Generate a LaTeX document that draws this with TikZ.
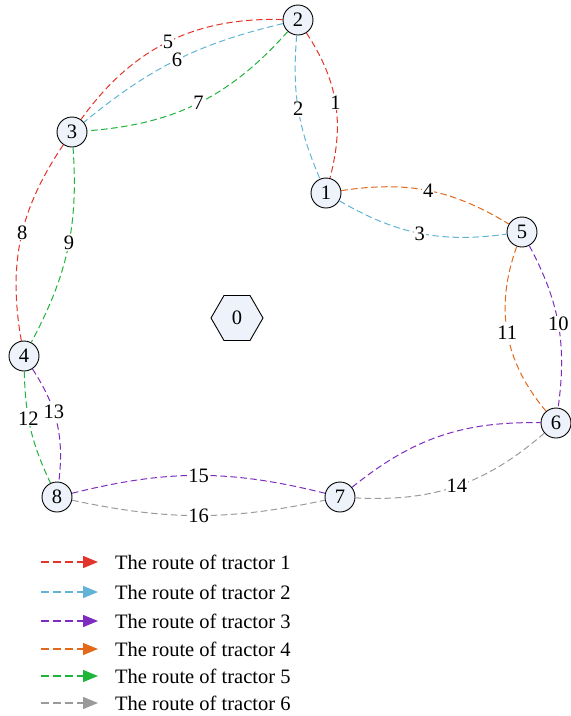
\documentclass[tikz,border=0pt]{standalone}
\usepackage{fontspec}
\setmainfont{Liberation Serif}
\usepackage{xcolor}
\usepackage{tikz}
\usetikzlibrary{arrows.meta,shapes.geometric}
\definecolor{tred}{HTML}{E3342B}
\definecolor{tblue}{HTML}{62B4D6}
\definecolor{tpurple}{HTML}{7E2CBF}
\definecolor{torange}{HTML}{E2691B}
\definecolor{tgreen}{HTML}{1FB43A}
\definecolor{tgray}{HTML}{9A9A9A}
\definecolor{nodefill}{HTML}{EEF2FA}

\begin{document}
\begin{tikzpicture}[x=1pt,y=-1pt,font=\fontsize{20.5}{24}\selectfont]
  \tikzset{farm/.style={circle,draw=black,fill=nodefill,line width=0.9pt,minimum size=30pt,inner sep=0pt},
    depot/.style={regular polygon,regular polygon sides=6,draw=black,fill=nodefill,line width=0.9pt,minimum size=52pt,inner sep=0pt},
    route/.style={line width=1pt,dash pattern=on 6.5pt off 3.5pt},
    keyline/.style={line width=1.3pt,dash pattern=on 7.5pt off 4.5pt,-{Triangle[length=15pt,width=12pt]},shorten >=17pt},
    lbl/.style={fill=white,inner sep=1pt,text=black}}
  \useasboundingbox (0,0) rectangle (571,716);

  % fields and depot
  \node[depot] (n0) at (237,318) {0};
  \node[farm] (n1) at (326,193) {1};
  \node[farm] (n2) at (298,20) {2};
  \node[farm] (n3) at (72,132) {3};
  \node[farm] (n4) at (24,356) {4};
  \node[farm] (n5) at (522,232) {5};
  \node[farm] (n6) at (556,423) {6};
  \node[farm] (n7) at (340,497) {7};
  \node[farm] (n8) at (57,497) {8};

  % routes
  \draw[route,tred] (n2) to[bend left=24] node[lbl]{1} (n1);
  \draw[route,tblue] (n2) to[bend right=14] node[lbl]{2} (n1);
  \draw[route,tblue] (n1) to[bend right=19] node[lbl]{3} (n5);
  \draw[route,torange] (n1) to[bend left=20] node[lbl]{4} (n5);
  \draw[route,tred] (n2) to[bend right=28] node[lbl]{5} (n3);
  \draw[route,tblue] (n2) to[bend right=13] node[lbl]{6} (n3);
  \draw[route,tgreen] (n2) to[bend left=22] node[lbl]{7} (n3);
  \draw[route,tred] (n3) to[bend right=22] node[lbl,pos=0.47]{8} (n4);
  \draw[route,tgreen] (n3) to[bend left=16] node[lbl,pos=0.47]{9} (n4);
  \draw[route,tpurple] (n5) to[bend left=18] node[lbl]{10} (n6);
  \draw[route,torange] (n5) to[bend right=30] node[lbl]{11} (n6);
  \draw[route,tgreen] (n4) to[bend right=12] node[lbl,pos=0.4]{12} (n8);
  \draw[route,tpurple] (n4) to[bend left=20] node[lbl,pos=0.4]{13} (n8);
  \draw[route,tgray] (n6) to[bend left=22] node[lbl]{14} (n7);
  \draw[route,tpurple] (n7) to[bend left=20] (n6);
  \draw[route,tpurple] (n8) to[bend left=14] node[lbl]{15} (n7);
  \draw[route,tgray] (n8) to[bend right=12] node[lbl]{16} (n7);

  % legend
  \foreach \c/\y [count=\i] in {tred/562,tblue/592,tpurple/621,torange/649,tgreen/676,tgray/703} {
    \coordinate (ls\i) at (41,\y);
    \node[anchor=west,inner sep=0pt] (lt\i) at (115,\y) {The route of tractor \i};
    \draw[keyline,\c] (ls\i) -- (lt\i);
  }
\end{tikzpicture}
\end{document}
